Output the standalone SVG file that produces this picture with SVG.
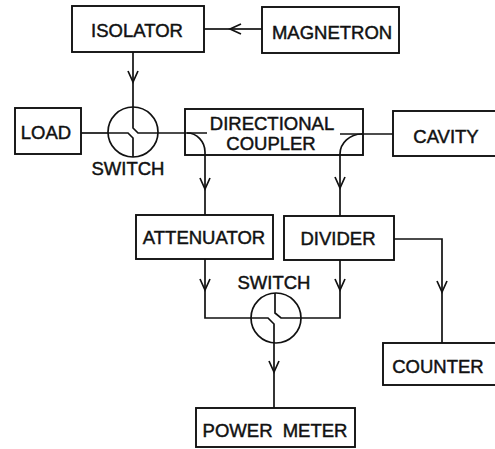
<svg xmlns="http://www.w3.org/2000/svg" width="495" height="449" viewBox="0 0 495 449">
<style>
.box{fill:#fff;stroke:#111;stroke-width:1.9}
.ln{fill:none;stroke:#111;stroke-width:1.7}
.arr{marker-end:url(#v)}
text{font-family:"Liberation Sans",Arial,sans-serif;font-size:18.5px;fill:#111;stroke:#111;stroke-width:0.45;text-anchor:middle}
</style>
<defs>
<marker id="v" markerUnits="userSpaceOnUse" markerWidth="14" markerHeight="14" viewBox="-12 -7 14 14" refX="0" refY="0" orient="auto">
<path d="M-11,-5 L0,0 L-11,5" fill="none" stroke="#111" stroke-width="1.7"/>
</marker>
</defs>
<rect width="495" height="449" fill="#fff"/>
<g id="connectors">
<path class="ln arr" d="M262,29 L230,29"/><path class="ln" d="M230,29 L204,29"/>
<path class="ln arr" d="M133,52 L133,82"/><path class="ln" d="M133,82 L133,107"/>
<path class="ln" d="M81,133 L108,133"/>
<path class="ln" d="M133,107 L133,128 L138,133 L207,133"/>
<path class="ln" d="M108,133 L128,133 L133,138 L133,157"/>
<path class="ln arr" d="M187,133 A18,19 0 0 1 205,152 L205,189"/><path class="ln" d="M205,189 L205,215"/>
<path class="ln" d="M393,134 L340,134"/>
<path class="ln arr" d="M362,134 A22,20 0 0 0 340,154 L340,188"/><path class="ln" d="M340,188 L340,216"/>
<path class="ln arr" d="M205,259 L205,290"/><path class="ln" d="M205,290 L205,318 L251,318"/>
<path class="ln arr" d="M340,260 L340,290"/><path class="ln" d="M340,290 L340,318 L301,318"/>
<path class="ln" d="M275,293 L275,313 L281,318 L301,318"/>
<path class="ln" d="M251,318 L268,318 L274,324 L274,343"/>
<path class="ln arr" d="M274,343 L274,372"/><path class="ln" d="M274,372 L274,408"/>
<path class="ln arr" d="M394,239 L442,239 L442,292"/><path class="ln" d="M442,292 L442,343"/>
</g>
<g id="isolator"><rect class="box" x="72" y="6" width="132" height="46"/><text x="137" y="37">ISOLATOR</text></g>
<g id="magnetron"><rect class="box" x="262" y="7" width="137" height="46"/><text x="332" y="39">MAGNETRON</text></g>
<g id="load"><rect class="box" x="15" y="108" width="66" height="46"/><text x="46" y="139">LOAD</text></g>
<g id="switch1"><circle class="ln" cx="133" cy="132" r="25"/><text x="128" y="175">SWITCH</text></g>
<g id="coupler"><rect class="box" x="185" y="109" width="178" height="46" style="fill:none"/><text x="272" y="130">DIRECTIONAL</text><text x="271" y="150">COUPLER</text></g>
<g id="cavity"><rect class="box" x="393" y="111" width="110" height="45"/><text x="446" y="143">CAVITY</text></g>
<g id="attenuator"><rect class="box" x="136" y="215" width="137" height="44"/><text x="204" y="244">ATTENUATOR</text></g>
<g id="divider"><rect class="box" x="284" y="216" width="110" height="44"/><text x="338" y="245">DIVIDER</text></g>
<g id="switch2"><circle class="ln" cx="276" cy="318" r="25"/><text x="274" y="289">SWITCH</text></g>
<g id="counter"><rect class="box" x="383" y="343" width="120" height="42"/><text x="438" y="373">COUNTER</text></g>
<g id="powermeter"><rect class="box" x="196" y="408" width="159" height="39"/><text x="275" y="437" style="word-spacing:5px">POWER METER</text></g>
</svg>
